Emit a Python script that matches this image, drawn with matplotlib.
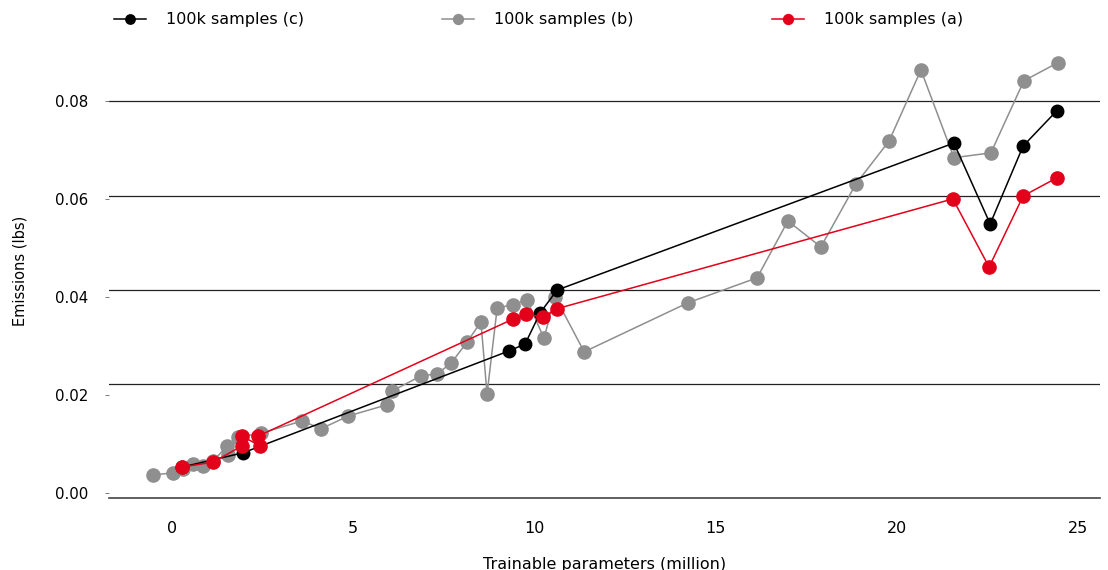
import matplotlib
matplotlib.use("Agg")
import matplotlib.pyplot as plt

# data
c_x = [0.28, 1.96, 9.30, 9.74, 10.15, 10.62, 21.57, 22.57, 23.48, 24.41]
c_y = [0.0053, 0.0082, 0.0290, 0.0304, 0.0367, 0.0414, 0.0714, 0.0549, 0.0708, 0.0780]

b_x = [-0.52, 0.03, 0.30, 0.58, 0.86, 1.13, 1.52, 1.54, 1.82, 2.45, 3.59, 4.11, 4.86,
       5.93, 6.07, 6.87, 7.31, 7.70, 8.14, 8.52, 8.69, 8.97, 9.41, 9.79, 10.26, 10.57,
       11.37, 14.23, 16.14, 16.99, 17.90, 18.87, 19.78, 20.66, 21.57, 22.59, 23.50, 24.44]
b_y = [0.0037, 0.0041, 0.0049, 0.0059, 0.0055, 0.0065, 0.0096, 0.0078, 0.0114, 0.0122,
       0.0147, 0.0131, 0.0157, 0.0180, 0.0208, 0.0239, 0.0243, 0.0265, 0.0308, 0.0349,
       0.0202, 0.0378, 0.0384, 0.0394, 0.0316, 0.0400, 0.0288, 0.0388, 0.0439, 0.0555,
       0.0502, 0.0631, 0.0718, 0.0863, 0.0684, 0.0694, 0.0841, 0.0878]

a_x = [0.28, 1.13, 1.93, 1.93, 2.43, 2.37, 9.41, 9.77, 10.23, 10.62, 21.54, 22.54, 23.48, 24.41]
a_y = [0.0053, 0.0063, 0.0096, 0.0116, 0.0096, 0.0116, 0.0355, 0.0365, 0.0359, 0.0376,
       0.0600, 0.0461, 0.0606, 0.0643]

grid_y = [0.0222, 0.0414, 0.0606, 0.0799]

fig = plt.figure(figsize=(11.08, 5.70), dpi=100)
ax = fig.add_axes([109 / 1108, 1 - 497.7 / 570, 991 / 1108, 452.7 / 570])

ax.plot(c_x, c_y, color="black", lw=1.1, marker="o", ms=9, zorder=3, label="100k samples (c)")
ax.plot(b_x, b_y, color="#8f8f8f", lw=1.1, marker="o", ms=9.5, zorder=2, label="100k samples (b)")
ax.plot(a_x, a_y, color="#e3001b", lw=1.1, marker="o", ms=9.5, zorder=4, label="100k samples (a)")

for g in grid_y:
    ax.axhline(g, color="#222222", lw=0.9, zorder=1)

ax.set_xlim(-1.74, 25.6)
ax.set_ylim(-0.00096, 0.0914)
ax.set_xticks([0, 5, 10, 15, 20, 25])
ax.set_yticks([0.0, 0.02, 0.04, 0.06, 0.08])
ax.set_yticklabels(["0.00", "0.02", "0.04", "0.06", "0.08"])

for s in ["top", "right", "left"]:
    ax.spines[s].set_visible(False)
ax.spines["bottom"].set_color("#444444")
ax.spines["bottom"].set_linewidth(1.2)

ax.tick_params(axis="x", length=0, pad=17, labelsize=11.5)
ax.tick_params(axis="y", length=3, width=0.6, color="#666666", pad=12, labelsize=10.8)

ax.set_xlabel("Trainable parameters (million)", fontsize=11.5, labelpad=15)
ax.set_ylabel("Emissions (lbs)", fontsize=10.5, labelpad=20)

leg = fig.legend(loc="upper left", bbox_to_anchor=(100 / 1108, 1 + 2 / 570), ncol=3,
                 frameon=False, markerscale=0.75, handlelength=2.0, handletextpad=1.25,
                 columnspacing=8.65, prop={"size": 11.5})

fig.savefig("out.png", dpi=100)
